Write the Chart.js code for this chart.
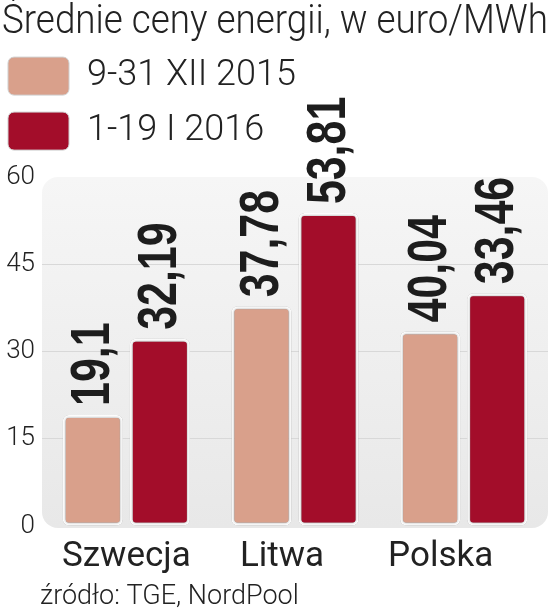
<!DOCTYPE html>
<html>
<head>
<meta charset="utf-8">
<script src="https://cdn.jsdelivr.net/npm/chart.js@4.4.1/dist/chart.umd.min.js"></script>
<style>
  html, body { margin: 0; padding: 0; background: #fff; }
  #wrap { width: 554px; height: 614px; }
</style>
</head>
<body>
<div id="wrap"><canvas id="wykres" width="554" height="614"></canvas></div>
<script>
const tytul = 'Średnie ceny energii, w euro/MWh';
const zrodlo = 'źródło: TGE, NordPool';
const kraje = ['Szwecja', 'Litwa', 'Polska'];
const okresy = ['9-31 XII 2015', '1-19 I 2016'];
const ceny2015 = [19.1, 37.78, 33.46];
const ceny2016 = [32.19, 53.81, 40.04];
// etykiety tak jak w oryginale (dla Polski zamienione)
const opisy2015 = ['19,1', '37,78', '40,04'];
const opisy2016 = ['32,19', '53,81', '33,46'];
const osY = [0, 15, 30, 45, 60];

const kolory = ['#d9a08b', '#a30d2a'];

const dodatki = {
  id: 'dodatki',
  afterLayout(chart) {
    // legenda bliżej lewej krawędzi
    chart.legend.left -= 11;
  },
  beforeDraw(chart) {
    const { ctx, chartArea: a } = chart;
    ctx.save();
    const g = ctx.createLinearGradient(0, a.top, 0, a.bottom);
    g.addColorStop(0, '#f6f6f6');
    g.addColorStop(1, '#e8e8e8');
    ctx.fillStyle = g;
    ctx.beginPath();
    ctx.roundRect(a.left, a.top, a.right - a.left, a.bottom - a.top + 2, 16);
    ctx.fill();
    ctx.restore();
  },
  beforeDatasetsDraw(chart) {
    const ctx = chart.ctx;
    ctx.save();
    ctx.shadowColor = 'rgba(0,0,0,0.4)';
    ctx.shadowBlur = 3;
  },
  afterDatasetsDraw(chart) {
    const ctx = chart.ctx;
    ctx.restore();
    const opisy = [opisy2015, opisy2016];
    ctx.save();
    ctx.fillStyle = '#1d1d1d';
    ctx.font = 'bold 55px "Liberation Sans"';
    ctx.textBaseline = 'middle';
    ctx.textAlign = 'left';
    chart.data.datasets.forEach((ds, i) => {
      chart.getDatasetMeta(i).data.forEach((bar, j) => {
        ctx.save();
        ctx.translate(bar.x + 1, bar.y - 9);
        ctx.rotate(-Math.PI / 2);
        ctx.scale(0.78, 1);
        ctx.fillText(opisy[i][j], 0, 0);
        ctx.restore();
      });
    });
    ctx.restore();
  },
  afterDraw(chart) {
    const ctx = chart.ctx;
    const x = chart.scales.x;
    const przesun = [0, -13, -23];
    ctx.save();
    ctx.fillStyle = '#222';
    ctx.font = '400 35px Roboto';
    ctx.textAlign = 'center';
    ctx.textBaseline = 'alphabetic';
    kraje.forEach((k, i) => {
      ctx.fillText(k, x.getPixelForValue(i) + przesun[i], 566);
    });
    ctx.textAlign = 'left';
    ctx.font = '300 27px Roboto';
    ctx.fillText(zrodlo, 40, 604);
    ctx.restore();
  }
};

new Chart(document.getElementById('wykres'), {
  type: 'bar',
  data: {
    labels: kraje,
    datasets: [
      { label: okresy[0], data: ceny2015, backgroundColor: kolory[0] },
      { label: okresy[1], data: ceny2016, backgroundColor: kolory[1] }
    ]
  },
  options: {
    responsive: false,
    animation: false,
    devicePixelRatio: 1,
    layout: { padding: { left: 2, right: 6, top: 0, bottom: 44 } },
    datasets: {
      bar: {
        borderColor: '#ffffff',
        borderWidth: 3,
        borderRadius: 6,
        borderSkipped: false,
        categoryPercentage: 0.795,
        barPercentage: 0.895,
        clip: false
      }
    },
    plugins: {
      title: {
        display: true,
        text: tytul,
        align: 'start',
        color: '#222',
        font: { family: 'Roboto', weight: '300', size: 41, lineHeight: 1.1 },
        padding: { top: 0, bottom: -5 }
      },
      subtitle: {
        // odstęp między legendą a wykresem
        display: true,
        text: ' ',
        weight: 500,
        font: { size: 1, lineHeight: 1 },
        padding: { top: 0, bottom: 16 }
      },
      legend: {
        display: true,
        position: 'top',
        align: 'start',
        labels: {
          color: '#222',
          font: { family: 'Roboto', weight: '300', size: 36 },
          boxWidth: 61,
          boxHeight: 38,
          padding: 17,
          useBorderRadius: true,
          borderRadius: 6,
          generateLabels(chart) {
            return chart.data.datasets.map((ds, i) => ({
              text: ds.label,
              fillStyle: ds.backgroundColor,
              strokeStyle: '#cfcfcf',
              lineWidth: 1,
              fontColor: '#222',
              datasetIndex: i,
              borderRadius: 6
            }));
          }
        }
      },
      tooltip: { enabled: false }
    },
    scales: {
      x: {
        grid: { display: false },
        border: { display: false },
        ticks: { color: 'transparent', font: { family: 'Roboto', size: 35 }, padding: -3 }
      },
      y: {
        min: 0,
        max: 60,
        afterFit(s) { s.width = 40; },
        afterBuildTicks(s) { s.ticks = osY.map(v => ({ value: v })); },
        grid: {
          color: c => (c.tick && c.tick.value > 0 && c.tick.value < 60) ? '#d8d8d8' : 'transparent',
          drawTicks: false
        },
        border: { display: false },
        ticks: { color: '#222', font: { family: 'Roboto', weight: '300', size: 26 }, padding: 7 }
      }
    }
  },
  plugins: [dodatki]
});
</script>
</body>
</html>
